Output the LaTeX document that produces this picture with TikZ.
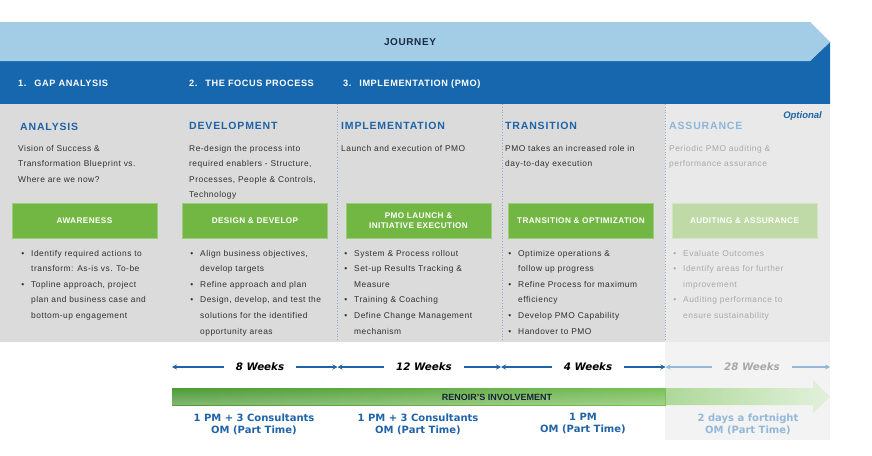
\documentclass[tikz,border=0pt]{standalone}
\usepackage{fontspec}
\setmainfont{Liberation Sans}
\newfontfamily\vfont{DejaVu Sans}
\newfontfamily\bodyfont{Liberation Sans}[LetterSpace=6]
\newfontfamily\spfont{Liberation Sans}[LetterSpace=8]
\newfontfamily\phfont{Liberation Sans}[LetterSpace=6]
\newfontfamily\bxfont{Liberation Sans}[LetterSpace=5]
\usetikzlibrary{arrows.meta,fadings}
\definecolor{lband}{HTML}{A3CCE7}
\definecolor{dband}{HTML}{1667AD}
\definecolor{panel}{HTML}{DCDBDC}
\definecolor{fpanel}{HTML}{E9E9E9}
\definecolor{fbottom}{HTML}{F3F3F3}
\definecolor{hblue}{HTML}{1E63A5}
\definecolor{fblue}{HTML}{8EB6D8}
\definecolor{txt}{HTML}{2F2F2F}
\definecolor{ftxt}{HTML}{A8A8A8}
\definecolor{gboxc}{HTML}{72B743}
\definecolor{fgboxc}{HTML}{BFD9A7}
\definecolor{navy}{HTML}{1B2B45}
\definecolor{dotc}{HTML}{8DAACB}
\definecolor{wkblue}{HTML}{1F63A8}
\definecolor{wkfade}{HTML}{93B8D9}
\definecolor{barL}{HTML}{4E9B37}
\definecolor{barR}{HTML}{7CC05A}
\newcommand{\myb}{\llap{\textbullet\hspace{7pt}}}
\begin{document}
\begin{tikzpicture}[x=1pt,y=-1pt,
  phase/.style={anchor=base west, inner sep=0pt, text=white, font=\phfont\bfseries\fontsize{9.2}{10}\selectfont},
  head/.style={anchor=base west, inner sep=0pt, text=hblue, font=\spfont\bfseries\fontsize{10.5}{12}\selectfont},
  desc/.style={anchor=north west, inner sep=0pt, align=left, text=txt, font=\bodyfont\fontsize{8.4}{15.6}\selectfont},
  blist/.style={anchor=north west, inner sep=0pt, align=left, text=txt, font=\bodyfont\fontsize{8.4}{15.6}\selectfont},
  gbox/.style={fill=gboxc, draw=gboxc!70!white, line width=0.6pt, text=white, align=center, minimum width=145pt, minimum height=35pt, inner sep=0pt, font=\bxfont\bfseries\fontsize{8.2}{10}\selectfont},
  wk/.style={draw=wkblue, line width=1.3pt, -{Stealth[length=5pt,width=5pt]}},
  wklab/.style={inner xsep=12pt, inner ysep=0pt, font=\vfont\bfseries\itshape\fontsize{10.3}{12}\selectfont},
  res/.style={align=center, inner sep=0pt, text=wkblue, font=\vfont\bfseries\fontsize{10}{12}\selectfont}
]
\useasboundingbox[fill=white] (0,0) rectangle (872,455);
% bands
\fill[dband] (0,61) -- (810,61) -- (830,42) -- (830,104) -- (0,104) -- cycle;
\fill[lband] (0,22) -- (810,22) -- (830,42) -- (810,61) -- (0,61) -- cycle;
\node[font=\phfont\bfseries\fontsize{10}{11}\selectfont, text=navy] (j) at (410,42) {JOURNEY};
\node[phase] (p1) at (18,86.5) {1.\hspace{8pt}GAP ANALYSIS};
\node[phase] (p2) at (189,86.5) {2.\hspace{8pt}THE FOCUS PROCESS};
\node[phase] (p3) at (343,86.5) {3.\hspace{8pt}IMPLEMENTATION (PMO)};
% panels
\fill[panel] (0,104) rectangle (665,342);
\fill[fpanel] (665,104) rectangle (830,342);
\fill[fbottom] (665,342) rectangle (830,440);
\foreach \xx in {337,502,665}
  \draw[dotc, dotted, line width=0.8pt] (\xx,104) -- (\xx,342);
% headings
\node[head] (h1) at (20,130) {ANALYSIS};
\node[head] (h2) at (189,129) {DEVELOPMENT};
\node[head] (h3) at (341,129) {IMPLEMENTATION};
\node[head] (h4) at (505,129) {TRANSITION};
\node[head, text=fblue] (h5) at (669,129) {ASSURANCE};
\node[anchor=base east, inner sep=0pt, text=hblue, font=\bfseries\itshape\fontsize{9.5}{10}\selectfont] (opt) at (822,118.5) {Optional};
% descriptions
\node[desc] (d1) at (18,140) {\strut Vision of Success \&\\Transformation Blueprint vs.\\Where are we now?};
\node[desc] (d2) at (189,140) {\strut Re-design the process into\\required enablers - Structure,\\Processes, People \& Controls,\\Technology};
\node[desc] (d3) at (341,140) {\strut Launch and execution of PMO};
\node[desc] (d4) at (505,140) {\strut PMO takes an increased role in\\day-to-day execution};
\node[desc, text=ftxt] (d5) at (669,140) {\strut Periodic PMO auditing \&\\performance assurance};
% green boxes
\node[gbox] (g1) at (84.5,220.5) {AWARENESS};
\node[gbox] (g2) at (255,220.5) {DESIGN \& DEVELOP};
\node[gbox] (g3) at (418.5,220.5) {PMO LAUNCH \&\\INITIATIVE EXECUTION};
\node[gbox] (g4) at (581,220.5) {TRANSITION \& OPTIMIZATION};
\node[gbox, fill=fgboxc, draw=fgboxc!70!white] (g5) at (744.5,220.5) {AUDITING \& ASSURANCE};
% bullets
\node[blist] (b1) at (31,245) {\strut\myb Identify required actions to\\transform: As-is vs. To-be\\\myb Topline approach, project\\plan and business case and\\bottom-up engagement};
\node[blist] (b2) at (200,245) {\strut\myb Align business objectives,\\develop targets\\\myb Refine approach and plan\\\myb Design, develop, and test the\\solutions for the identified\\opportunity areas};
\node[blist] (b3) at (354,245) {\strut\myb System \& Process rollout\\\myb Set-up Results Tracking \&\\Measure\\\myb Training \& Coaching\\\myb Define Change Management\\mechanism};
\node[blist] (b4) at (518,245) {\strut\myb Optimize operations \&\\follow up progress\\\myb Refine Process for maximum\\efficiency\\\myb Develop PMO Capability\\\myb Handover to PMO};
\node[blist, text=ftxt] (b5) at (683,245) {\strut\myb Evaluate Outcomes\\\myb Identify areas for further\\improvement\\\myb Auditing performance to\\ensure sustainability};
% weeks
\coordinate (wa0) at (172,367);
\coordinate (wa1) at (337.5,367);
\coordinate (wa2) at (501,367);
\coordinate (wa3) at (665.5,367);
\coordinate (wa4) at (830,367);
\node[wklab] (w1) at (260,367) {8 Weeks};
\node[wklab] (w2) at (424,367) {12 Weeks};
\node[wklab] (w3) at (588,367) {4 Weeks};
\node[wklab, text=ftxt] (w4) at (752,367) {28 Weeks};
\draw[wk] (w1.west) -- (wa0);
\draw[wk] (w1.east) -- (wa1);
\draw[wk] (w2.west) -- (wa1);
\draw[wk] (w2.east) -- (wa2);
\draw[wk] (w3.west) -- (wa2);
\draw[wk] (w3.east) -- (wa3);
\draw[wk, draw=wkfade] (w4.west) -- (wa3);
\draw[wk, draw=wkfade] (w4.east) -- (wa4);
% involvement bar
\shade[left color=barL, right color=barR] (172,388) rectangle (666,405);
\fill[white, opacity=0.3, path fading=north] (172,388) rectangle (666,405);
\shade[left color=barR!62!white, right color=barR!22!white] (666,388) -- (813,388) -- (813,380) -- (830,397) -- (813,413) -- (813,405) -- (666,405) -- cycle;
\node[inner sep=0pt, text=navy!80!black, font=\bfseries\fontsize{9}{10}\selectfont] (bar) at (497,397) {RENOIR'S INVOLVEMENT};
% resources
\node[res] (r1) at (254,424) {1 PM + 3 Consultants\\OM (Part Time)};
\node[res] (r2) at (418,424) {1 PM + 3 Consultants\\OM (Part Time)};
\node[res] (r3) at (583,424) {1 PM\\OM (Part Time)};
\node[res, text=wkfade] (r4) at (748,424) {2 days a fortnight\\OM (Part Time)};
\end{tikzpicture}
\end{document}
